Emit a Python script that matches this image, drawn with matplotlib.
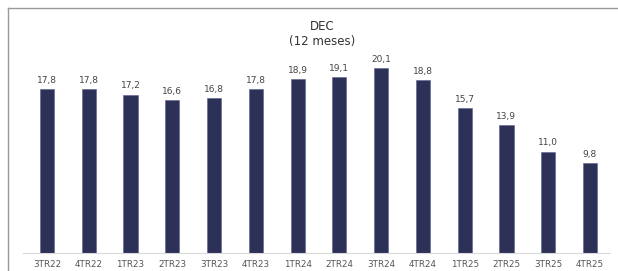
import matplotlib.pyplot as plt
from matplotlib.lines import Line2D

# Data
quarters = ['3TR22', '4TR22', '1TR23', '2TR23', '3TR23', '4TR23', '1TR24',
            '2TR24', '3TR24', '4TR24', '1TR25', '2TR25', '3TR25', '4TR25']
dec_values = [17.8, 17.8, 17.2, 16.6, 16.8, 17.8, 18.9,
              19.1, 20.1, 18.8, 15.7, 13.9, 11.0, 9.8]

W, H = 618, 271
fig = plt.figure(figsize=(W / 100, H / 100), dpi=100)
ax = fig.add_axes([23 / W, 18 / H, (610 - 23) / W, (253 - 60) / H])

x = range(len(quarters))
ax.bar(x, dec_values, width=0.34, color='#2d3057', edgecolor='#5a6190', linewidth=0.4)

for xi, v in zip(x, dec_values):
    ax.annotate(f'{v:.1f}'.replace('.', ','), (xi, v), xytext=(0, 3),
                textcoords='offset points', ha='center', va='bottom',
                fontsize=6.5, color='#444444')

ax.set_xlim(-0.575, 13.48)
ax.set_ylim(0, 20.95)
ax.set_xticks(list(x))
ax.set_xticklabels(quarters, fontsize=6.3, color='#555555')
ax.tick_params(axis='x', length=0, pad=5)
ax.set_yticks([])
for side in ['top', 'right', 'left']:
    ax.spines[side].set_visible(False)
ax.spines['bottom'].set_color('#d9d9d9')
ax.spines['bottom'].set_linewidth(0.8)

# title
fig.text(322 / W, 1 - 34 / H, 'DEC\n(12 meses)', ha='center', va='center',
         fontsize=8.5, color='#333333', linespacing=1.2)

# frame (left and top edges)
fig.add_artist(Line2D([7.5 / W, 7.5 / W], [0, 1 - 8 / H], transform=fig.transFigure,
                      color='#999999', linewidth=1))
fig.add_artist(Line2D([7.5 / W, 1], [1 - 8 / H, 1 - 8 / H], transform=fig.transFigure,
                      color='#999999', linewidth=1))

fig.savefig('out.png', dpi=100)
